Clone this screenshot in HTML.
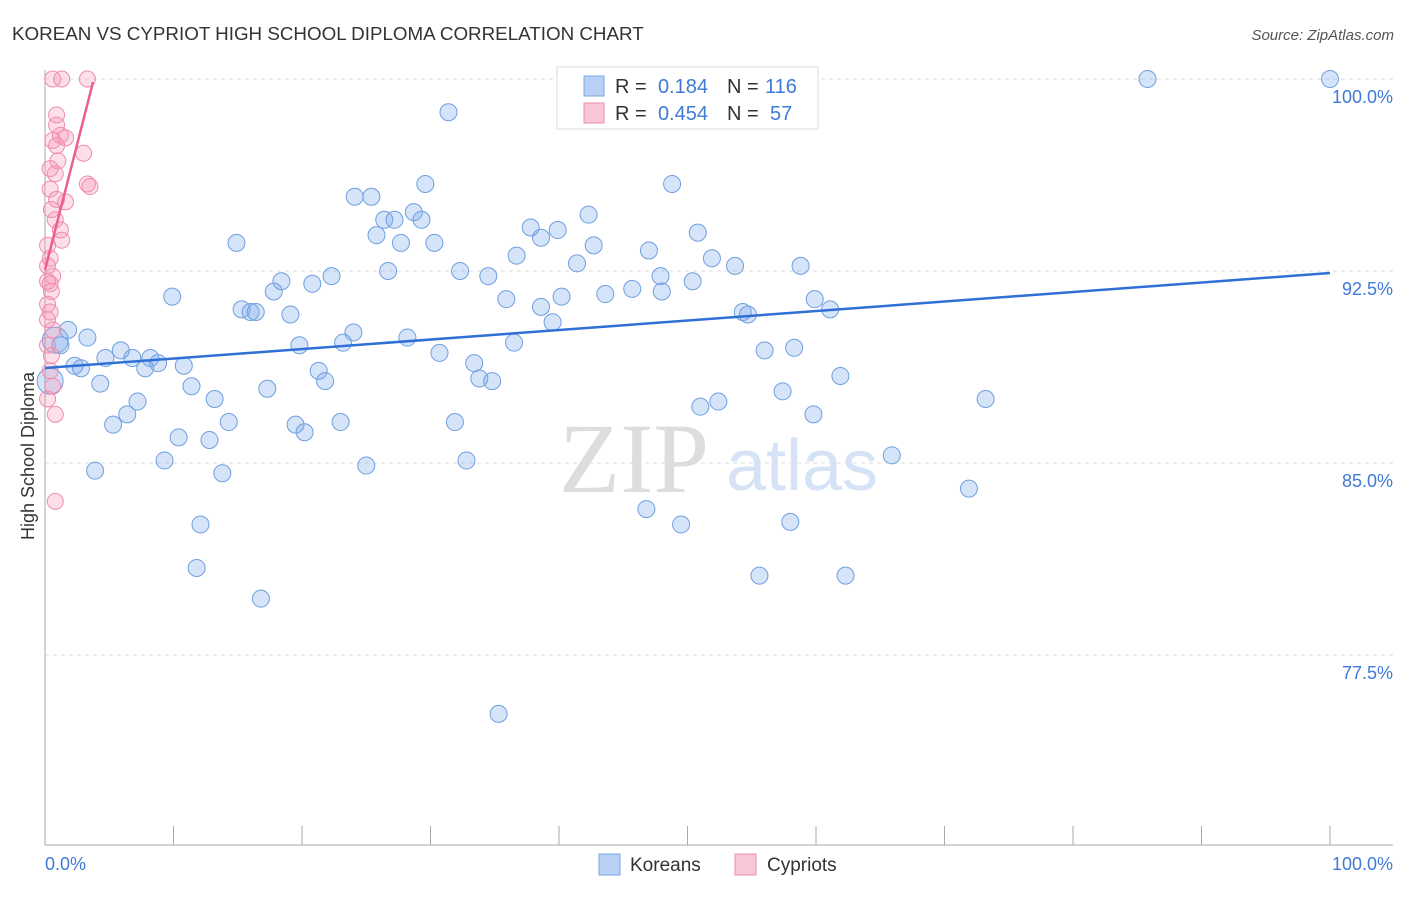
<!DOCTYPE html>
<html><head><meta charset="utf-8"><style>
body{margin:0;background:#fff;font-family:"Liberation Sans",sans-serif}
svg text{font-family:"Liberation Sans",sans-serif}
svg text.serif{font-family:"Liberation Serif",serif}
</style></head><body>
<svg id="c" width="1406" height="892">
<text x="12" y="40" font-size="18.8" fill="#333">KOREAN VS CYPRIOT HIGH SCHOOL DIPLOMA CORRELATION CHART</text>
<text x="1394" y="40" font-size="15" fill="#555" font-style="italic" text-anchor="end">Source: ZipAtlas.com</text>
<text transform="translate(34,456) rotate(-90)" font-size="18" fill="#333" text-anchor="middle">High School Diploma</text>
<g>
<text class="serif" x="634" y="492" font-size="100" fill="#ddd" text-anchor="middle">ZIP</text>
<text x="802" y="490" font-size="72" fill="#d6e3f6" text-anchor="middle">atlas</text></g>
<g id="grid"></g><g id="pts"></g><g id="lines"></g>
<g>
<rect x="557" y="67" width="261" height="62" fill="#fff" stroke="#ddd"/>
<rect x="584" y="76" width="20" height="20" fill="#b7d0f3" stroke="#7aa7e6"/>
<rect x="584" y="103" width="20" height="20" fill="#f9c6d6" stroke="#f08cab"/>
<text x="615" y="93" font-size="20" fill="#333">R =</text>
<text x="708" y="93" font-size="20" fill="#3f7ad6" text-anchor="end">0.184</text>
<text x="727" y="93" font-size="20" fill="#333">N =</text>
<text x="765" y="93" font-size="20" fill="#3f7ad6">116</text>
<text x="615" y="120" font-size="20" fill="#333">R =</text>
<text x="708" y="120" font-size="20" fill="#3f7ad6" text-anchor="end">0.454</text>
<text x="727" y="120" font-size="20" fill="#333">N =</text>
<text x="770" y="120" font-size="20" fill="#3f7ad6">57</text></g>
<g>
<rect x="599" y="854" width="21" height="21" fill="#b7d0f3" stroke="#7aa7e6"/>
<text x="630" y="871" font-size="19" fill="#333">Koreans</text>
<rect x="735" y="854" width="21" height="21" fill="#f9c6d6" stroke="#f08cab"/>
<text x="767" y="871" font-size="19" fill="#333">Cypriots</text></g>
</svg>
<script>
const yTicks=[100,92.5,85,77.5];
const yTickLabels=["100.0%","92.5%","85.0%","77.5%"];
const xLabels=["0.0%","100.0%"];
const koreanX=[85.8,100,31.4,48.8,29.6,24.1,25.4,42.3,28.7,26.4,27.2,29.3,37.8,39.9,14.9,25.8,27.7,30.3,38.6,42.7,50.8,47.0,36.7,51.9,41.4,53.7,58.8,32.3,26.7,22.3,34.5,18.4,47.9,50.4,20.8,17.8,43.6,45.7,48.0,40.2,35.9,9.9,59.9,38.6,15.3,16.0,16.4,19.1,61.1,54.3,54.7,39.5,1.8,24.0,3.3,28.2,1.2,23.2,19.8,36.5,56.0,58.3,5.9,30.7,4.7,6.8,8.2,8.8,10.8,2.3,2.8,7.8,33.4,21.3,21.8,33.8,34.8,61.9,4.3,11.4,17.3,57.4,7.2,13.2,52.4,51.0,73.2,6.4,5.3,14.3,19.5,23.0,31.9,59.8,20.2,10.4,12.8,65.9,9.3,25.0,32.8,3.9,13.8,71.9,46.8,12.1,49.5,58.0,11.8,55.6,62.3,16.8,35.3,0.8,0.4];
const koreanY=[100,100,98.7,95.9,95.9,95.4,95.4,94.7,94.8,94.5,94.5,94.5,94.2,94.1,93.6,93.9,93.6,93.6,93.8,93.5,94.0,93.3,93.1,93.0,92.8,92.7,92.7,92.5,92.5,92.3,92.3,92.1,92.3,92.1,92.0,91.7,91.6,91.8,91.7,91.5,91.4,91.5,91.4,91.1,91.0,90.9,90.9,90.8,91.0,90.9,90.8,90.5,90.2,90.1,89.9,89.9,89.6,89.7,89.6,89.7,89.4,89.5,89.4,89.3,89.1,89.1,89.1,88.9,88.8,88.8,88.7,88.7,88.9,88.6,88.2,88.3,88.2,88.4,88.1,88.0,87.9,87.8,87.4,87.5,87.4,87.2,87.5,86.9,86.5,86.6,86.5,86.6,86.6,86.9,86.2,86.0,85.9,85.3,85.1,84.9,85.1,84.7,84.6,84.0,83.2,82.6,82.6,82.7,80.9,80.6,80.6,79.7,75.2,89.8,88.2];
const cypriotX=[0.6,1.3,3.3,0.9,0.9,1.2,0.6,1.6,0.9,3.0,1.0,0.4,0.8,3.3,3.5,0.4,0.9,1.6,0.5,0.8,1.2,1.3,0.2,0.4,0.2,0.6,0.2,0.4,0.5,0.2,0.4,0.2,0.6,0.2,0.5,0.4,0.6,0.2,0.8,0.8];
const cypriotY=[100,100,100,98.6,98.2,97.8,97.6,97.7,97.4,97.1,96.8,96.5,96.3,95.9,95.8,95.7,95.3,95.2,94.9,94.5,94.1,93.7,93.5,93.0,92.7,92.3,92.1,92.0,91.7,91.2,90.9,90.6,90.2,89.6,89.2,88.6,88.0,87.5,86.9,83.5];
const koreanTrend=[[0,88.71],[100,92.42]];
const cypriotTrend=[[0,92.54],[3.74,99.88]];
const X=v=>45+v*12.85, Y=v=>79+(100-v)*25.6;
const NS="http://www.w3.org/2000/svg";
function mk(p,t,a){const e=document.createElementNS(NS,t);for(const k in a)e.setAttribute(k,a[k]);p.appendChild(e);return e;}
const g=document.getElementById('grid');
yTicks.forEach((v,i)=>{
 const l=mk(g,'line',{x1:45,x2:1393,y1:Y(v),y2:Y(v),stroke:'#ddd','stroke-dasharray':'4,4'});
 
 
 const t=mk(g,'text',{x:1393,y:Y(v)+24,'font-size':18,fill:'#3f7ad6','text-anchor':'end'});t.textContent=yTickLabels[i];
 
 
});
mk(g,'line',{x1:45,x2:45,y1:70,y2:845,stroke:'#aaa'});
mk(g,'line',{x1:45,x2:1393,y1:845,y2:845,stroke:'#aaa'});
for(let i=0;i<=10;i++){const tk=mk(g,'line',{x1:X(i*10),x2:X(i*10),y1:826,y2:845,stroke:'#aaa'});
 
 }
const xl0=mk(g,'text',{x:45,y:870,'font-size':18,fill:'#3f7ad6'});xl0.textContent=xLabels[0];


const xl1=mk(g,'text',{x:1393,y:870,'font-size':18,fill:'#3f7ad6','text-anchor':'end'});xl1.textContent=xLabels[1];


const P=document.getElementById('pts');
koreanX.forEach((x,i)=>{const big=i>=koreanX.length-2;
 const c=mk(P,'circle',{cx:X(x),cy:Y(koreanY[i]),r:big?13:8.5,fill:'rgba(120,165,235,0.3)',stroke:'#6f9fe0','stroke-width':1});
 
 });
cypriotX.forEach((x,i)=>{
 const c=mk(P,'circle',{cx:X(x),cy:Y(cypriotY[i]),r:8,fill:'rgba(245,150,180,0.3)',stroke:'#f08cab','stroke-width':1});
 
 });
const L=document.getElementById('lines');
const l1=mk(L,'line',{x1:X(koreanTrend[0][0]),y1:Y(koreanTrend[0][1]),x2:X(koreanTrend[1][0]),y2:Y(koreanTrend[1][1]),stroke:'#2f6fd6','stroke-width':2.5});


const l2=mk(L,'line',{x1:X(cypriotTrend[0][0]),y1:Y(cypriotTrend[0][1]),x2:X(cypriotTrend[1][0]),y2:Y(cypriotTrend[1][1]),stroke:'#ec5f8e','stroke-width':2.5});


</script>
</body></html>
